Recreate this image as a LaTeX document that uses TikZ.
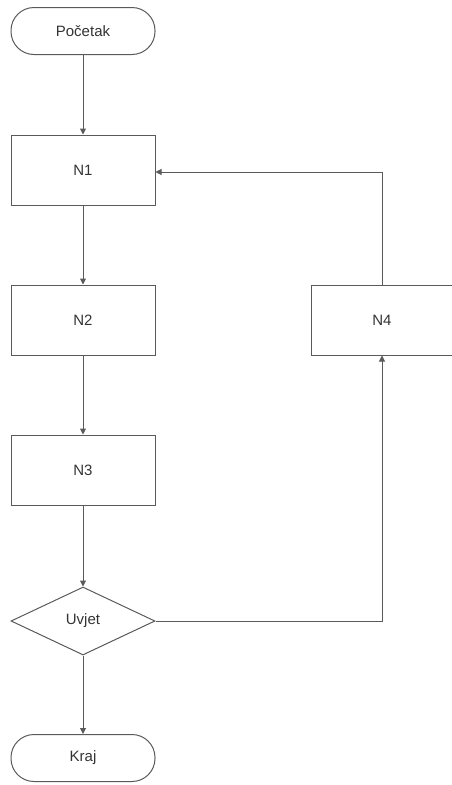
\documentclass[tikz,border=0pt]{standalone}
\usepackage{fontspec}
\setmainfont{Liberation Sans}
\usetikzlibrary{arrows.meta,shapes.geometric}
\definecolor{ln}{HTML}{5A5A5A}
\begin{document}
\begin{tikzpicture}[x=1pt,y=-1pt,
  every node/.style={font=\fontsize{15}{18}\selectfont, text=black!80},
  boxst/.style={draw=ln, line width=1pt, minimum width=144pt, minimum height=70pt, inner sep=0pt},
  termst/.style={draw=ln, line width=1pt, rounded corners=23pt, minimum width=144pt, minimum height=47pt, inner sep=0pt},
  decst/.style={draw=ln, line width=1pt, diamond, aspect=2.1, minimum width=144pt, minimum height=68pt, inner sep=0pt},
  conn/.style={draw=ln, line width=1pt, -{Triangle[length=6pt,width=6pt]}}
]
\useasboundingbox (0,0) rectangle (452,785);
\node[termst] (start) at (83,31) {Početak};
\node[boxst] (n1) at (83,170) {N1};
\node[boxst] (n2) at (83,320) {N2};
\node[boxst] (n3) at (83,470) {N3};
\node[decst] (uv) at (83,621) {Uvjet};
\node[termst] (kraj) at (83,758) {Kraj};
\node[boxst, minimum width=142pt] (n4) at (382,320) {N4};
\draw[conn] (start) -- (n1);
\draw[conn] (n1) -- (n2);
\draw[conn] (n2) -- (n3);
\draw[conn] (n3) -- (uv);
\draw[conn] (uv) -- (kraj);
\draw[conn] (uv.east) -| (n4.south);
\draw[conn] (n4.north) |- (n1.east |- 0,172);
\end{tikzpicture}
\end{document}
